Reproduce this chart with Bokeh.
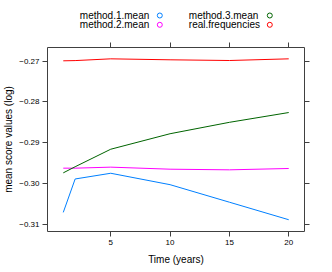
from bokeh.plotting import figure
from bokeh.layouts import column
from bokeh.models import LinearAxis, FixedTicker, Range1d, ColumnDataSource
from bokeh.embed import file_html
from bokeh.resources import INLINE

# ---- data ----
time_years = [1, 2, 5, 10, 15, 20]
method_1_mean = [-0.3071, -0.2989, -0.2975, -0.3003, -0.3046, -0.3089]
method_2_mean = [-0.29625, -0.29625, -0.2960, -0.2965, -0.29666, -0.29633]
method_3_mean = [-0.2974, -0.2959, -0.2916, -0.2878, -0.2850, -0.2826]
real_frequencies = [-0.26991, -0.26985, -0.26942, -0.26966, -0.26983, -0.26942]

series_names = ["method.1.mean", "method.2.mean", "method.3.mean", "real.frequencies"]
series_colors = ["#0080ff", "#ff00ff", "#006400", "#ff0000"]

x_ticks = [5, 10, 15, 20]
y_ticks = [-0.31, -0.30, -0.29, -0.28, -0.27]
y_tick_labels = ["\u22120.31", "\u22120.30", "\u22120.29", "\u22120.28", "\u22120.27"]

FONT = "Liberation Sans"
BOX = "#404040"
KEY_H = 41

# ---- key (legend) strip, same side borders as the panel so frames align ----
key = figure(frame_width=257, frame_height=KEY_H, x_range=Range1d(43, 300), y_range=Range1d(0, KEY_H),
             output_backend="svg", toolbar_location=None,
             min_border_left=43, min_border_right=16, min_border_top=0, min_border_bottom=0,
             x_axis_location=None, y_axis_location=None)
key.grid.visible = False
key.outline_line_color = None
key_text_x = [75.3, 75.3, 184.3, 184.3]
key_glyph_x = [155.3, 155.3, 265.3, 265.3]
key_y = [26, 16.7, 26, 16.7]
key.text(x=key_text_x, y=key_y, text=series_names, text_font={"value": FONT},
         text_font_size="10px", text_baseline="middle", text_align="left", text_color="black")
key.scatter(x=key_glyph_x, y=key_y, marker="circle", size=5, line_color=series_colors,
            fill_color=None, line_width=1)

# ---- main panel ----
p = figure(frame_width=257, frame_height=184,
           x_range=Range1d(-0.33, 21.33), y_range=Range1d(-0.31179, -0.26664),
           output_backend="svg", toolbar_location=None,
           min_border_left=43, min_border_right=16, min_border_top=6, min_border_bottom=34,
           background_fill_color="white", border_fill_color="white")
p.grid.visible = False
p.outline_line_color = BOX
p.outline_line_width = 1

def style_axis(ax):
    ax.axis_line_color = None
    ax.major_tick_line_color = BOX
    ax.major_tick_out = 5
    ax.major_tick_in = 0
    ax.minor_tick_line_color = None
    ax.major_label_text_font = FONT
    ax.major_label_text_color = "black"
    ax.major_label_standoff = 3
    ax.major_label_text_font_size = "8px"
    ax.axis_label_text_font = FONT
    ax.axis_label_text_font_size = "10px"
    ax.axis_label_text_font_style = "normal"
    ax.axis_label_text_color = "black"

xb = p.xaxis[0]
xb.ticker = FixedTicker(ticks=x_ticks)
xb.axis_label = "Time (years)"
style_axis(xb)
xb.axis_label_standoff = 6

yl = p.yaxis[0]
yl.ticker = FixedTicker(ticks=y_ticks)
yl.major_label_overrides = {t: l for t, l in zip(y_ticks, y_tick_labels)}
yl.axis_label = "mean score values (log)"
style_axis(yl)
yl.axis_label_standoff = 2

xt = LinearAxis(ticker=FixedTicker(ticks=x_ticks))
style_axis(xt)
xt.major_label_overrides = {t: "" for t in x_ticks}
p.add_layout(xt, "above")
yr = LinearAxis(ticker=FixedTicker(ticks=y_ticks))
style_axis(yr)
yr.major_label_overrides = {t: "" for t in y_ticks}
p.add_layout(yr, "right")

all_series = [method_1_mean, method_2_mean, method_3_mean, real_frequencies]
for name, vals, col in zip(series_names, all_series, series_colors):
    src = ColumnDataSource(dict(x=time_years, y=vals))
    p.line("x", "y", source=src, line_color=col, line_width=1)

layout = column(key, p, spacing=0)
open("out.html", "w").write(file_html(layout, INLINE))
